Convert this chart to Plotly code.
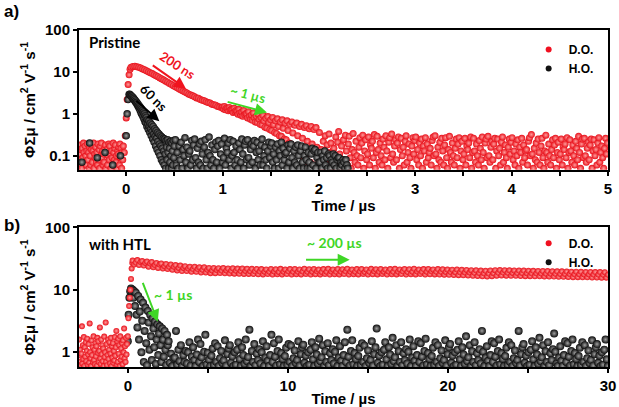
import numpy as np
import plotly.graph_objects as go
from plotly.subplots import make_subplots

# ================= Panel a) Pristine =================
# D.O. (red): time grids (µs) and values
a_do_t_pre = np.linspace(-0.49, -0.03, 80)
a_do_v_pre = [0.18, 0.06, 0.11, 0.08, 0.14, 0.05, 0.15, 0.09, 0.20, 0.12,
              0.07, 0.17, 0.10, 0.06, 0.13, 0.19, 0.08, 0.12, 0.05, 0.16,
              0.10, 0.06, 0.14, 0.18, 0.07, 0.13, 0.20, 0.05, 0.11, 0.09,
              0.16, 0.07, 0.12, 0.06, 0.19, 0.08, 0.14, 0.05, 0.17, 0.10,
              0.20, 0.09, 0.13, 0.06, 0.11, 0.07, 0.15, 0.18, 0.05, 0.12,
              0.14, 0.06, 0.10, 0.19, 0.08, 0.17, 0.11, 0.05, 0.13, 0.09,
              0.06, 0.20, 0.12, 0.08, 0.15, 0.18, 0.07, 0.10, 0.05, 0.13,
              0.11, 0.16, 0.06, 0.19, 0.09, 0.15, 0.05, 0.12, 0.08, 0.17]
a_do_t_rise = [-0.02, -0.01, 0.0, 0.01, 0.02, 0.03, 0.04]
a_do_v_rise = [0.12, 0.3, 0.8, 2.2, 5.0, 8.5, 11.5]
a_do_t_decay1 = np.linspace(0.05, 0.99, 48)
a_do_v_decay1 = [13.0, 13.5, 13.6, 13.3, 12.9, 12.4, 11.8, 11.3, 10.7, 10.1,
                 9.6, 9.1, 8.6, 8.1, 7.7, 7.2, 6.8, 6.4, 6.0, 5.7,
                 5.3, 5.0, 4.7, 4.4, 4.2, 3.9, 3.7, 3.5, 3.3, 3.15,
                 2.95, 2.8, 2.7, 2.55, 2.4, 2.35, 2.2, 2.1, 2.05, 1.95,
                 1.85, 1.8, 1.7, 1.65, 1.6, 1.5, 1.45, 1.42]
a_do_t_decay2 = np.linspace(1.00, 1.99, 100)
a_do_v_decay2 = [1.45, 1.3, 1.5, 1.25, 1.38, 1.32, 1.18, 1.42, 1.22, 1.28,
                 1.25, 1.08, 1.35, 1.12, 1.2, 1.15, 0.98, 1.28, 1.05, 0.92,
                 1.1, 0.88, 1.2, 0.95, 1.02, 1.0, 0.8, 1.12, 0.86, 0.74,
                 0.95, 0.7, 1.05, 0.8, 0.64, 0.88, 0.62, 0.98, 0.74, 0.56,
                 0.82, 0.54, 0.92, 0.68, 0.48, 0.78, 0.46, 0.86, 0.62, 0.42,
                 0.72, 0.4, 0.82, 0.55, 0.36, 0.68, 0.34, 0.76, 0.5, 0.3,
                 0.64, 0.29, 0.72, 0.45, 0.25, 0.6, 0.24, 0.68, 0.4, 0.2,
                 0.56, 0.19, 0.64, 0.35, 0.16, 0.53, 0.15, 0.6, 0.3, 0.12,
                 0.5, 0.12, 0.56, 0.26, 0.09, 0.47, 0.09, 0.52, 0.22, 0.07,
                 0.44, 0.07, 0.5, 0.19, 0.12, 0.42, 0.06, 0.47, 0.16, 0.1]
a_do_t_tail = np.linspace(2.005, 4.995, 300)
a_do_v_tail = [0.36, 0.07, 0.14, 0.05, 0.22, 0.1, 0.3, 0.06, 0.18, 0.12,
               0.33, 0.08, 0.2, 0.05, 0.13, 0.15, 0.06, 0.28, 0.09, 0.21,
               0.38, 0.11, 0.05, 0.17, 0.08, 0.24, 0.07, 0.31, 0.13, 0.06,
               0.19, 0.29, 0.09, 0.05, 0.14, 0.34, 0.12, 0.07, 0.22, 0.1,
               0.06, 0.16, 0.27, 0.09, 0.2, 0.31, 0.05, 0.13, 0.24, 0.08,
               0.11, 0.28, 0.06, 0.18, 0.15, 0.22, 0.09, 0.32, 0.05, 0.12,
               0.29, 0.14, 0.07, 0.2, 0.1, 0.06, 0.25, 0.16, 0.08, 0.3,
               0.13, 0.05, 0.21, 0.27, 0.09, 0.33, 0.11, 0.07, 0.17, 0.24,
               0.08, 0.2, 0.28, 0.05, 0.14, 0.26, 0.1, 0.16, 0.06, 0.22,
               0.3, 0.07, 0.12, 0.19, 0.09, 0.05, 0.17, 0.27, 0.11, 0.23,
               0.28, 0.08, 0.14, 0.06, 0.2, 0.1, 0.25, 0.05, 0.17, 0.13,
               0.27, 0.07, 0.19, 0.09, 0.12, 0.15, 0.06, 0.23, 0.28, 0.1,
               0.3, 0.11, 0.05, 0.16, 0.08, 0.21, 0.07, 0.26, 0.13, 0.06,
               0.18, 0.27, 0.09, 0.05, 0.14, 0.29, 0.12, 0.07, 0.2, 0.1,
               0.06, 0.15, 0.25, 0.09, 0.19, 0.27, 0.05, 0.13, 0.22, 0.08,
               0.11, 0.26, 0.06, 0.17, 0.14, 0.2, 0.09, 0.28, 0.05, 0.12,
               0.26, 0.13, 0.07, 0.19, 0.1, 0.06, 0.23, 0.15, 0.08, 0.28,
               0.12, 0.05, 0.2, 0.25, 0.09, 0.29, 0.1, 0.07, 0.16, 0.22,
               0.08, 0.19, 0.26, 0.05, 0.13, 0.25, 0.1, 0.15, 0.06, 0.21,
               0.28, 0.07, 0.12, 0.18, 0.09, 0.05, 0.16, 0.25, 0.11, 0.21,
               0.27, 0.08, 0.13, 0.06, 0.19, 0.1, 0.24, 0.05, 0.16, 0.12,
               0.26, 0.07, 0.18, 0.09, 0.13, 0.14, 0.06, 0.22, 0.27, 0.1,
               0.32, 0.11, 0.05, 0.15, 0.08, 0.2, 0.07, 0.25, 0.12, 0.06,
               0.17, 0.26, 0.09, 0.05, 0.13, 0.31, 0.12, 0.07, 0.19, 0.1,
               0.06, 0.14, 0.24, 0.09, 0.18, 0.26, 0.05, 0.12, 0.21, 0.08,
               0.11, 0.25, 0.06, 0.16, 0.14, 0.19, 0.09, 0.27, 0.05, 0.12,
               0.24, 0.13, 0.07, 0.18, 0.1, 0.06, 0.22, 0.15, 0.08, 0.29,
               0.12, 0.05, 0.19, 0.25, 0.09, 0.26, 0.1, 0.07, 0.15, 0.21,
               0.08, 0.18, 0.25, 0.05, 0.13, 0.24, 0.1, 0.14, 0.06, 0.2,
               0.27, 0.07, 0.12, 0.17, 0.09, 0.05, 0.15, 0.26, 0.11, 0.2]

# H.O. (black)
a_ho_t_pre = np.linspace(-0.46, -0.06, 6)
a_ho_v_pre = [0.07, 0.2, 0.09, 0.12, 0.06, 0.1]
a_ho_t_rise = [0.0, 0.01, 0.02, 0.03]
a_ho_v_rise = [0.3, 1.0, 2.2, 2.9]
a_ho_t_decay = np.linspace(0.035, 0.50, 94)
a_ho_v_decay = [2.95, 2.85, 2.75, 2.7, 2.55, 2.6, 2.4, 2.45, 2.25, 2.3,
                2.1, 2.15, 1.95, 2.0, 1.8, 1.85, 1.65, 1.75, 1.5, 1.6,
                1.35, 1.5, 1.2, 1.4, 1.05, 1.3, 0.95, 1.2, 0.85, 1.1,
                0.75, 1.0, 0.65, 0.9, 0.6, 0.82, 0.5, 0.72, 0.58, 0.42,
                0.68, 0.5, 0.36, 0.6, 0.44, 0.3, 0.55, 0.38, 0.25, 0.5,
                0.33, 0.21, 0.44, 0.29, 0.17, 0.4, 0.26, 0.14, 0.36, 0.22,
                0.12, 0.33, 0.19, 0.1, 0.3, 0.17, 0.08, 0.28, 0.15, 0.07,
                0.26, 0.13, 0.06, 0.25, 0.11, 0.05, 0.23, 0.16, 0.08, 0.24,
                0.12, 0.05, 0.21, 0.15, 0.07, 0.22, 0.1, 0.05, 0.2, 0.13,
                0.06, 0.23, 0.09, 0.17]
a_ho_t_tail = np.linspace(0.51, 2.30, 180)
a_ho_v_tail = [0.24, 0.06, 0.12, 0.05, 0.17, 0.08, 0.21, 0.05, 0.14, 0.1,
               0.27, 0.07, 0.16, 0.05, 0.11, 0.13, 0.06, 0.23, 0.08, 0.18,
               0.25, 0.09, 0.05, 0.15, 0.07, 0.19, 0.06, 0.22, 0.11, 0.05,
               0.16, 0.24, 0.08, 0.05, 0.12, 0.28, 0.1, 0.06, 0.18, 0.08,
               0.05, 0.14, 0.21, 0.07, 0.17, 0.23, 0.05, 0.11, 0.19, 0.07,
               0.09, 0.26, 0.06, 0.15, 0.12, 0.2, 0.08, 0.24, 0.05, 0.1,
               0.22, 0.12, 0.06, 0.17, 0.08, 0.05, 0.2, 0.14, 0.07, 0.25,
               0.11, 0.05, 0.18, 0.22, 0.08, 0.24, 0.09, 0.06, 0.14, 0.19,
               0.07, 0.17, 0.23, 0.05, 0.12, 0.21, 0.08, 0.13, 0.06, 0.18,
               0.25, 0.06, 0.1, 0.16, 0.08, 0.05, 0.13, 0.21, 0.09, 0.17,
               0.2, 0.07, 0.11, 0.05, 0.16, 0.08, 0.19, 0.05, 0.13, 0.1,
               0.21, 0.06, 0.15, 0.08, 0.11, 0.12, 0.05, 0.18, 0.07, 0.15,
               0.19, 0.09, 0.05, 0.13, 0.07, 0.16, 0.06, 0.18, 0.1, 0.05,
               0.13, 0.17, 0.07, 0.05, 0.1, 0.16, 0.08, 0.05, 0.12, 0.07,
               0.05, 0.11, 0.15, 0.06, 0.13, 0.14, 0.05, 0.09, 0.12, 0.07,
               0.07, 0.12, 0.05, 0.1, 0.08, 0.13, 0.06, 0.09, 0.05, 0.11,
               0.1, 0.05, 0.08, 0.07, 0.11, 0.06, 0.1, 0.05, 0.08, 0.09,
               0.09, 0.05, 0.07, 0.06, 0.08, 0.07, 0.05, 0.08, 0.06, 0.05]

# ================= Panel b) with HTL =================
b_do_t_pre = np.linspace(-3.05, -0.05, 100)
b_do_v_pre = [1.6, 0.7, 1.1, 0.62, 0.88, 0.95, 2.6, 0.66, 1.3, 0.78,
              1.75, 0.6, 1.2, 0.85, 1.45, 0.72, 1.05, 1.65, 0.63, 0.92,
              1.35, 0.68, 2.9, 1.0, 0.8, 0.6, 1.55, 0.9, 1.2, 0.7,
              1.8, 0.75, 1.1, 0.64, 1.4, 0.86, 1.25, 0.61, 1.7, 0.98,
              1.5, 0.7, 1.05, 2.5, 0.8, 0.65, 1.6, 0.93, 1.3, 0.72,
              1.15, 0.6, 1.78, 0.84, 1.0, 3.0, 0.7, 1.35, 0.62, 0.9,
              1.6, 0.78, 1.1, 1.45, 0.66, 0.95, 1.7, 0.6, 1.25, 0.82,
              1.4, 0.68, 1.05, 0.74, 1.75, 0.88, 1.2, 2.2, 0.63, 1.5,
              0.7, 1.65, 0.95, 1.3, 0.6, 1.8, 0.76, 1.15, 0.85, 1.4,
              0.64, 1.55, 1.0, 2.4, 0.8, 1.25, 0.7, 1.7, 0.92, 1.35]
b_do_t_rise = [0.0, 0.04, 0.08, 0.12, 0.16, 0.2, 0.24, 0.28]
b_do_v_rise = [1.8, 3.5, 5.5, 7.5, 10, 15, 22, 27]
b_do_t_main = np.linspace(0.3, 30.0, 300)
b_do_v_main = [29.5, 25.5, 27.5, 30, 25, 28, 29, 24.5, 27, 28.5, 23.5, 26.5,
               28, 23, 25, 27, 22.5, 25.5, 26.5, 22, 24, 26, 21.5, 23.5,
               25.5, 21, 23.5, 25, 20.5, 22.5, 24.5, 20, 22.5, 24, 20, 22,
               23.5, 19.5, 21.5, 23.5, 19.5, 21.5, 23, 19, 21, 23, 19, 21,
               22.5, 18.5, 20.5, 22.5, 18.5, 20.8, 22.3, 18.6, 20.4, 22.4, 18.4, 20.5,
               22, 18.3, 20.2, 22.2, 18.2, 20.3, 21.9, 18.1, 20, 22, 18, 20.1,
               21.8, 18, 19.9, 21.7, 17.9, 19.8, 21.6, 17.8, 19.7, 21.5, 17.7, 19.6,
               21.3, 17.9, 19.5, 21.6, 17.6, 19.7, 21.4, 17.8, 19.4, 21.7, 17.7, 19.6,
               21.2, 17.9, 19.8, 21.5, 17.6, 19.5, 21.6, 17.8, 19.6, 21.3, 17.7, 19.7,
               21.8, 17.9, 19.5, 21.4, 17.6, 19.6, 21.6, 17.8, 19.8, 21.2, 17.7, 19.4,
               21.5, 17.9, 19.6, 21.7, 17.6, 19.7, 21.3, 17.8, 19.5, 21.6, 17.7, 19.6,
               21.4, 17.9, 19.8, 21.8, 17.6, 19.5, 21.2, 17.8, 19.6, 21.5, 17.7, 19.7,
               21.6, 17.9, 19.4, 21.3, 17.6, 19.6, 21.7, 17.8, 19.8, 21.4, 17.7, 19.5,
               21.6, 17.9, 19.6, 21.2, 17.6, 19.7, 21.5, 17.8, 19.5, 21.7, 17.7, 19.6,
               21.3, 17.9, 19.8, 21.6, 17.6, 19.4, 21.4, 17.8, 19.6, 21.8, 17.7, 19.7,
               21.2, 17.9, 19.5, 21.5, 17.6, 19.6, 21.6, 17.8, 19.8, 21.3, 17.7, 19.5,
               21.5, 17.6, 19.5, 21.4, 17.5, 19.4, 21.2, 17.4, 19.3, 21.1, 17.3, 19.2,
               21.2, 17.2, 19.1, 21.0, 17.1, 19.0, 20.9, 17.0, 19.0, 20.7, 16.8, 18.8,
               20.6, 16.7, 18.6, 20.4, 16.5, 18.4, 20.3, 16.4, 18.3, 20.5, 16.6, 18.5,
               20.7, 16.9, 18.8, 20.8, 17.0, 18.9, 20.7, 16.9, 18.8, 20.6, 16.8, 18.7,
               20.5, 16.8, 18.6, 20.4, 16.7, 18.6, 20.4, 16.6, 18.5, 20.3, 16.6, 18.4,
               20.2, 16.5, 18.4, 20.1, 16.5, 18.3, 20.1, 16.4, 18.2, 20.0, 16.4, 18.2,
               19.9, 16.3, 18.1, 19.8, 16.2, 18.0, 19.8, 16.2, 18.0, 19.7, 16.1, 17.9,
               19.6, 16.0, 17.8, 19.6, 16.0, 17.8, 19.5, 15.9, 17.7, 19.4, 15.9, 17.7,
               19.4, 15.8, 17.6, 19.3, 15.8, 17.6, 19.3, 15.7, 17.5, 19.2, 15.7, 17.5]

b_ho_t_rise = [0.0, 0.05, 0.1, 0.15]
b_ho_v_rise = [1.5, 4.0, 7.5, 9.5]
b_ho_t_decay = np.linspace(0.2, 2.5, 47)
b_ho_v_decay = [10.5, 9.5, 10, 7.5, 9.5, 5.5, 9, 4, 2.5, 8,
                1.6, 4.5, 7, 1.0, 3.2, 6.2, 0.7, 2.2, 5.2, 1.4,
                0.62, 4.6, 3.0, 1.1, 4.0, 1.8, 0.75, 3.5, 2.4, 1.2,
                3.1, 0.65, 1.6, 2.8, 0.9, 2.0, 2.6, 1.3, 0.7, 2.4,
                1.6, 0.85, 2.2, 1.1, 0.62, 1.9, 1.3]
b_ho_t_tail = np.linspace(2.55, 30.0, 360)
b_ho_v_tail = [1.5, 0.68, 0.95, 0.6, 0.8, 0.82, 2.2, 0.63, 1.1, 0.72,
               1.3, 0.6, 0.9, 0.7, 1.05, 0.66, 1.0, 1.45, 0.61, 0.85,
               1.2, 0.75, 0.6, 0.92, 1.6, 0.7, 1.35, 0.83, 0.6, 1.02,
               1.9, 0.64, 0.98, 0.76, 0.6, 0.88, 1.15, 0.62, 1.4, 0.7,
               1.25, 0.6, 0.8, 1.05, 0.67, 0.74, 1.55, 0.61, 0.94, 1.15,
               1.3, 0.68, 0.86, 0.6, 1.0, 0.63, 1.1, 1.45, 0.78, 0.6,
               1.2, 0.9, 0.65, 1.6, 0.72, 0.84, 2.3, 0.6, 1.05, 0.7,
               1.35, 0.62, 0.95, 0.75, 1.12, 0.66, 1.0, 1.5, 0.6, 0.82,
               1.25, 0.73, 0.6, 0.9, 1.9, 0.7, 1.4, 0.85, 0.61, 1.05,
               1.6, 0.64, 0.97, 0.78, 0.6, 0.87, 1.18, 0.62, 1.35, 0.7,
               1.28, 0.6, 0.8, 1.07, 0.67, 0.75, 1.5, 0.61, 0.93, 1.2,
               1.32, 0.68, 0.88, 0.6, 1.0, 0.63, 1.1, 1.45, 0.77, 0.6,
               1.2, 0.92, 0.65, 1.65, 0.72, 0.83, 1.3, 0.6, 1.04, 0.7,
               1.4, 0.62, 0.96, 0.75, 1.12, 0.66, 1.02, 1.55, 0.6, 0.82,
               1.25, 0.73, 0.6, 0.9, 1.45, 0.7, 2.3, 0.85, 0.61, 1.05,
               1.55, 0.64, 0.97, 0.78, 0.6, 0.87, 1.18, 0.62, 1.4, 0.7,
               1.28, 0.6, 0.8, 1.07, 0.67, 0.75, 1.5, 0.61, 0.93, 1.2,
               2.4, 0.68, 0.88, 0.6, 1.0, 0.63, 1.1, 1.45, 0.77, 0.6,
               1.2, 0.92, 0.65, 1.7, 0.72, 0.83, 1.3, 0.6, 1.04, 0.7,
               1.45, 0.62, 0.96, 0.75, 1.12, 0.66, 1.02, 1.6, 0.6, 0.82,
               1.25, 0.73, 0.6, 0.9, 1.5, 0.7, 1.4, 0.85, 0.61, 1.05,
               1.65, 0.64, 0.97, 0.78, 0.6, 0.87, 1.18, 0.62, 1.45, 0.7,
               1.3, 0.6, 0.8, 1.07, 0.67, 0.75, 1.55, 0.61, 0.93, 1.2,
               1.35, 0.68, 0.88, 0.6, 1.0, 0.63, 1.1, 1.5, 0.77, 0.6,
               1.2, 0.92, 0.65, 1.8, 0.72, 0.83, 1.3, 0.6, 1.04, 0.7,
               1.45, 0.62, 0.96, 0.75, 1.12, 0.66, 2.2, 1.02, 0.6, 0.82,
               1.25, 0.73, 0.6, 0.9, 1.5, 0.7, 1.4, 0.85, 0.61, 1.05,
               1.6, 0.64, 0.97, 0.78, 0.6, 0.87, 1.18, 0.62, 1.45, 0.7,
               1.3, 0.6, 0.8, 1.07, 0.67, 0.75, 2.2, 0.61, 0.93, 1.2,
               1.35, 0.68, 0.88, 0.6, 1.0, 0.63, 1.1, 1.5, 0.77, 0.6,
               1.2, 0.92, 0.65, 1.7, 0.72, 0.83, 1.3, 0.6, 1.04, 0.7,
               1.45, 0.62, 0.96, 0.75, 1.12, 2.0, 1.02, 0.66, 0.6, 0.82,
               1.25, 0.73, 0.6, 0.9, 1.5, 0.7, 1.4, 0.85, 0.61, 1.05,
               1.6, 0.64, 0.97, 0.78, 0.6, 0.87, 1.18, 0.62, 1.45, 0.7,
               1.3, 0.6, 0.8, 1.07, 0.67, 0.75, 1.55, 0.61, 0.93, 1.2,
               1.35, 0.68, 0.88, 0.6, 1.0, 0.63, 1.1, 1.6, 0.77, 0.6]

# ================= assemble series =================
a_do_t = np.concatenate([a_do_t_pre, a_do_t_rise, a_do_t_decay1, a_do_t_decay2, a_do_t_tail])
a_do_v = a_do_v_pre + a_do_v_rise + a_do_v_decay1 + a_do_v_decay2 + a_do_v_tail
a_ho_t = np.concatenate([a_ho_t_pre, a_ho_t_rise, a_ho_t_decay, a_ho_t_tail])
a_ho_v = a_ho_v_pre + a_ho_v_rise + a_ho_v_decay + a_ho_v_tail
b_do_t = np.concatenate([b_do_t_pre, b_do_t_rise, b_do_t_main])
b_do_v = b_do_v_pre + b_do_v_rise + b_do_v_main
b_ho_t = np.concatenate([b_ho_t_rise, b_ho_t_decay, b_ho_t_tail])
b_ho_v = b_ho_v_rise + b_ho_v_decay + b_ho_v_tail

RED_EDGE, RED_HI = "#e8101a", "#ff9c9c"
BLK_EDGE, BLK_HI = "#0d0d0d", "#a0a0a0"
RED_LEG, BLK_LEG = "#f01020", "#111111"
GREEN = "#3fd626"
RED_TXT = "#f0141e"
FONT = "Liberation Sans"
AFONT = "Lato"

fig = make_subplots(rows=2, cols=1, vertical_spacing=0.17)

def sphere(edge, hi, size):
    return dict(color=edge, size=size, line=dict(width=0),
                gradient=dict(type="radial", color=hi))

# data traces (drawn order: panel a red then black; panel b black then red)
fig.add_trace(go.Scatter(x=a_do_t, y=a_do_v, mode="markers", name="D.O.",
                         marker=sphere(RED_EDGE, RED_HI, 7), showlegend=False), row=1, col=1)
fig.add_trace(go.Scatter(x=a_ho_t, y=a_ho_v, mode="markers", name="H.O.",
                         marker=sphere(BLK_EDGE, BLK_HI, 7.5), showlegend=False), row=1, col=1)
fig.add_trace(go.Scatter(x=b_ho_t, y=b_ho_v, mode="markers", name="H.O.",
                         marker=sphere(BLK_EDGE, BLK_HI, 8), showlegend=False), row=2, col=1)
fig.add_trace(go.Scatter(x=b_do_t, y=b_do_v, mode="markers", name="D.O.",
                         marker=sphere(RED_EDGE, RED_HI, 6), showlegend=False), row=2, col=1)

# legend entries (small solid dots like the reference legend)
for leg, row in (("legend", 1), ("legend2", 2)):
    fig.add_trace(go.Scatter(x=[None], y=[None], mode="markers", name="D.O.",
                             marker=dict(color=RED_LEG, size=6), legend=leg), row=row, col=1)
    fig.add_trace(go.Scatter(x=[None], y=[None], mode="markers", name="H.O.",
                             marker=dict(color=BLK_LEG, size=6), legend=leg), row=row, col=1)

ax_common = dict(showline=True, linewidth=2, linecolor="black", mirror=True,
                 ticks="outside", ticklen=4, tickwidth=1.5, tickcolor="black",
                 showgrid=False, zeroline=False, automargin=False,
                 tickfont=dict(family=FONT, size=15, color="black", weight="bold"))
ytitle = "ΦΣμ / cm<sup>2</sup> V<sup>-1</sup> s<sup>-1</sup>"
ttl_font = dict(family=FONT, size=15, color="black", weight="bold")
xttl_font = dict(family=FONT, size=15, color="black", weight="bold")
minor_x = dict(ticks="outside", ticklen=4, tickwidth=1.5, tickcolor="black")

fig.update_xaxes(**ax_common)
fig.update_yaxes(**ax_common)
fig.update_xaxes(range=[-0.49, 5.0], dtick=1, tick0=0, minor=dict(dtick=0.5, **minor_x),
                 title=dict(text="Time / µs", font=xttl_font, standoff=0), row=1, col=1)
fig.update_xaxes(range=[-3.05, 30.0], dtick=10, tick0=0, minor=dict(dtick=5, **minor_x),
                 title=dict(text="Time / µs", font=xttl_font, standoff=1), row=2, col=1)
fig.update_yaxes(type="log", range=[np.log10(0.046), 2], tickvals=[0.1, 1, 10, 100],
                 ticktext=["0.1", "1", "10", "100"], domain=[0.585, 1.0],
                 title=dict(text=ytitle, font=ttl_font, standoff=6), row=1, col=1)
fig.update_yaxes(type="log", range=[np.log10(0.58), 2], tickvals=[1, 10, 100],
                 ticktext=["1", "10", "100"], domain=[0.0, 0.414],
                 title=dict(text=ytitle, font=ttl_font, standoff=6), row=2, col=1)

leg_font = dict(family=FONT, size=12, color="black", weight="bold")
fig.update_layout(
    width=619, height=407,
    margin=dict(l=79, r=11, t=30, b=40, autoexpand=False),
    plot_bgcolor="white", paper_bgcolor="white",
    legend=dict(x=0.85, y=0.985, xanchor="left", yanchor="top", font=leg_font,
                bgcolor="rgba(0,0,0,0)", tracegroupgap=0, itemwidth=30),
    legend2=dict(x=0.85, y=0.41, xanchor="left", yanchor="top", font=leg_font,
                 bgcolor="rgba(0,0,0,0)", tracegroupgap=0, itemwidth=30),
)

def txt(text, x, y, xref, yref, color="black", size=14, angle=0, xanchor="center", family=AFONT):
    fig.add_annotation(text=text, x=x, y=y, xref=xref, yref=yref, showarrow=False,
                       textangle=angle, xanchor=xanchor, yanchor="middle",
                       font=dict(family=family, size=size, color=color, weight="bold"))

def arrow(x0, y0, x1, y1, xref, yref, color):
    fig.add_annotation(x=x1, y=y1, ax=x0, ay=y0, xref=xref, yref=yref,
                       axref=xref, ayref=yref, text="", showarrow=True,
                       arrowhead=2, arrowsize=1.2, arrowwidth=2, arrowcolor=color)

# panel labels
txt("a)", -0.146, 1.056, "paper", "paper", size=17, xanchor="left", family=FONT)
txt("b)", -0.146, 0.421, "paper", "paper", size=17, xanchor="left", family=FONT)

# panel a annotations (y given in log10 units)
txt("Pristine", -0.41, 1.71, "x", "y", size=15, xanchor="left")
txt("200 ns", 0.53, 1.16, "x", "y", color=RED_TXT, size=13, angle=33)
arrow(0.26, 1.18, 0.62, 0.60, "x", "y", RED_TXT)
txt("60 ns", 0.29, 0.38, "x", "y", color="black", size=13, angle=45)
arrow(0.09, 0.343, 0.344, -0.175, "x", "y", "black")
txt("~ 1 µs", 1.265, 0.463, "x", "y", color=GREEN, size=13, angle=15)
arrow(1.037, 0.295, 1.461, 0.031, "x", "y", GREEN)

# panel b annotations
txt("with HTL", -2.58, 1.742, "x2", "y2", size=15, xanchor="left")
txt("~ 1 µs", 1.48, 0.919, "x2", "y2", color=GREEN, size=14, xanchor="left")
arrow(0.9, 1.136, 1.87, 0.49, "x2", "y2", GREEN)
txt("~ 200 µs", 11.04, 1.758, "x2", "y2", color=GREEN, size=14, xanchor="left")
arrow(11.04, 1.484, 13.86, 1.484, "x2", "y2", GREEN)

# remove the browser's default 8px body margin so the figure sits at the page origin
fig.write_html("out.html", config={"displayModeBar": False},
               post_script="document.body.style.margin='0';document.body.style.overflow='hidden';")
